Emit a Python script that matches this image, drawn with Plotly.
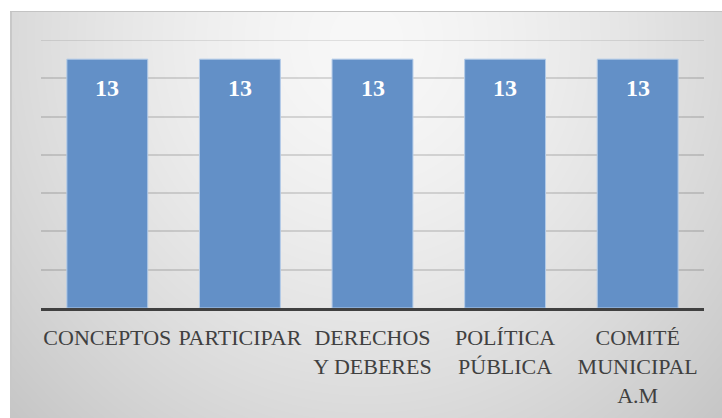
import base64
import struct
import zlib

import numpy as np
import plotly.graph_objects as go

# ---- data ----
categories = [
    "CONCEPTOS",
    "PARTICIPAR",
    "DERECHOS<br>Y DEBERES",
    "POLÍTICA<br>PÚBLICA",
    "COMITÉ<br>MUNICIPAL<br>A.M",
]
values = [13, 13, 13, 13, 13]

# ---- canvas geometry (pixels) ----
W, H = 722, 418
ML, MR, MT, MB = 41, 18, 40, 110
PLOT_W, PLOT_H = W - ML - MR, H - MT - MB
BG_X0, BG_Y0 = 10, 11  # chart-area panel starts here
Y_MAX = 14

SERIF = "'Liberation Serif', 'DejaVu Serif', 'Times New Roman', serif"
GRID = "rgba(0,0,0,0.13)"


def gradient_png(w, h):
    """Grey radial panel fill, light near the top centre, darker at the edges."""
    yy, xx = np.mgrid[0:h, 0:w].astype(float)
    cx, cy = w / 2.0, 30.0
    d = np.sqrt(((xx - cx) / (w / 2.0)) ** 2 + ((yy - cy) / 380.0) ** 2)
    v = 248.0 - 30.0 * d ** 1.5
    v = np.clip(v, 0, 255)
    v[0, :] = 195  # thin top border
    v[:, 0:2] = np.minimum(v[:, 0:2], 200)  # thin left border
    img = v.astype(np.uint8)
    raw = b"".join(b"\x00" + img[r].tobytes() for r in range(h))

    def chunk(tag, data):
        c = struct.pack(">I", len(data)) + tag + data
        return c + struct.pack(">I", zlib.crc32(tag + data) & 0xFFFFFFFF)

    png = b"\x89PNG\r\n\x1a\n"
    png += chunk(b"IHDR", struct.pack(">IIBBBBB", w, h, 8, 0, 0, 0, 0))
    png += chunk(b"IDAT", zlib.compress(raw, 9))
    png += chunk(b"IEND", b"")
    return "data:image/png;base64," + base64.b64encode(png).decode()


bg_w, bg_h = W - BG_X0, H - BG_Y0
bg_src = gradient_png(bg_w, bg_h)

fig = go.Figure()
fig.add_trace(
    go.Bar(
        x=categories,
        y=values,
        marker=dict(color="#6390c7", line=dict(color="#b3cbe8", width=1)),
        hoverinfo="skip",
    )
)

# value labels inside the top of each bar
for c, v in zip(categories, values):
    fig.add_annotation(
        x=c,
        y=v,
        text=f"<b>{v}</b>",
        showarrow=False,
        yanchor="top",
        yshift=-14,
        font=dict(family=SERIF, size=24, color="white"),
    )

# gridline along the top edge of the plot area
fig.add_shape(
    type="line", xref="paper", yref="y", x0=0, x1=1, y0=Y_MAX, y1=Y_MAX,
    line=dict(color=GRID, width=1.5), layer="below",
)

fig.add_layout_image(
    dict(
        source=bg_src,
        xref="paper",
        yref="paper",
        x=(BG_X0 - ML) / PLOT_W,
        y=(H - MB - BG_Y0) / PLOT_H,
        sizex=bg_w / PLOT_W,
        sizey=bg_h / PLOT_H,
        xanchor="left",
        yanchor="top",
        sizing="stretch",
        layer="below",
    )
)

fig.update_layout(
    width=W,
    height=H,
    margin=dict(l=ML, r=MR, t=MT, b=MB, pad=0, autoexpand=False),
    paper_bgcolor="white",
    plot_bgcolor="rgba(0,0,0,0)",
    bargap=0.39,
    showlegend=False,
    font=dict(family=SERIF),
    xaxis=dict(
        showline=True,
        linecolor="#404040",
        linewidth=3,
        ticks="",
        showgrid=False,
        automargin=False,
        tickfont=dict(family=SERIF, size=22, color="#404040"),
        ticklabelstandoff=8,
        fixedrange=True,
    ),
    yaxis=dict(
        range=[0, Y_MAX],
        dtick=2,
        showticklabels=False,
        showgrid=True,
        gridcolor=GRID,
        gridwidth=1.5,
        zeroline=False,
        automargin=False,
        fixedrange=True,
    ),
)

fig.write_html("out.html", config={"displayModeBar": False})
